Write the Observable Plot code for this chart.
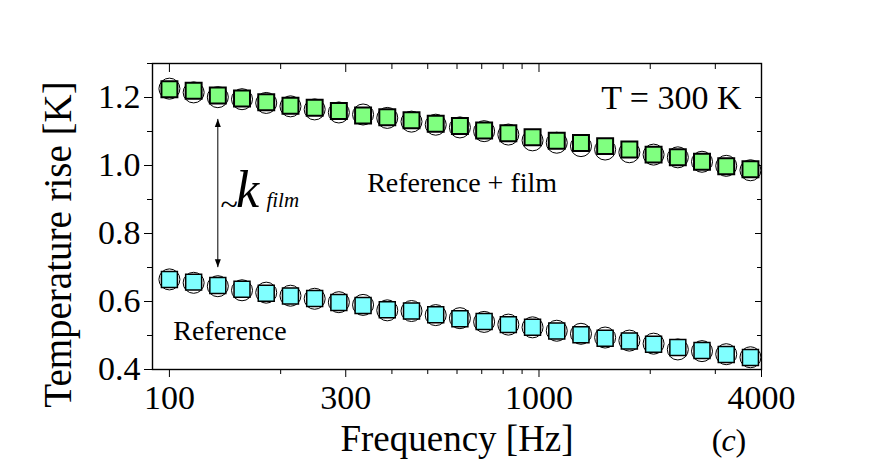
<!DOCTYPE html>
<html><head><meta charset="utf-8">
<script src="https://cdn.jsdelivr.net/npm/d3@7"></script>
<script src="https://cdn.jsdelivr.net/npm/@observablehq/plot@0.6"></script>
<style>body{margin:0;background:#fff} #chart svg, #chart svg text{font-family:'Liberation Serif','Times New Roman',serif}</style>
</head><body><div id="chart"></div>
<script>
const freq = [100,116.3,135.2,157.2,182.8,212.6,247.2,287.4,334.2,388.6,451.9,525.5,611.0,710.5,826.2,960.7,1117,1299,1510,1756,2042,2375,2761,3211,3734];
const filmSquare = [1.224,1.220,1.206,1.197,1.186,1.176,1.170,1.160,1.147,1.142,1.133,1.123,1.116,1.103,1.095,1.083,1.073,1.066,1.057,1.047,1.032,1.024,1.011,0.998,0.989];
const filmCircle = [1.226,1.215,1.201,1.195,1.184,1.174,1.165,1.156,1.150,1.140,1.129,1.120,1.112,1.101,1.091,1.074,1.067,1.057,1.047,1.039,1.032,1.024,1.011,0.999,0.986];
const refSquare = [0.665,0.657,0.647,0.636,0.624,0.616,0.609,0.597,0.588,0.576,0.572,0.561,0.549,0.541,0.532,0.524,0.513,0.502,0.492,0.484,0.474,0.465,0.456,0.444,0.435];
const refCircle = [0.665,0.655,0.645,0.633,0.626,0.617,0.608,0.598,0.590,0.574,0.572,0.560,0.551,0.540,0.532,0.524,0.514,0.505,0.494,0.485,0.476,0.459,0.454,0.445,0.436];
const xMajor = [100,300,1000,4000];
const xMinor = [200,400,500,600,700,800,900,2000,3000];
const yMajor = [0.4,0.6,0.8,1.0,1.2];
const yMinor = [0.5,0.7,0.9,1.1,1.3];
const arrowSpan = [{f:135.2, top:1.137, bottom:0.701}];
const noteTemp = [{text:"T = 300 K", f:3533, v:1.1676}];
const noteFilm = [{text:"Reference + film", f:342.8, v:0.9215}];
const noteRef = [{text:"Reference", f:102.4, v:0.4874}];
const noteTilde = [{text:"~", f:137.5, v:0.853}];
const noteK = [{text:"k", f:151.5, v:0.8765}];
const noteSub = [{text:"film", f:183.0, v:0.8765}];

const FF = "'Liberation Serif','Times New Roman',serif";

function head(color) {
  return d3.create("svg:marker")
    .attr("viewBox","-8 -4 9 8")
    .attr("markerWidth",9).attr("markerHeight",8)
    .attr("markerUnits","userSpaceOnUse")
    .attr("orient","auto-start-reverse")
    .attr("fill",color).attr("stroke","none")
    .call(m => m.append("path").attr("d","M-8,-3L0,0L-8,3Z"))
    .node();
}

const txt = (data, o) => Plot.text(data, {x: "f", y: "v", text: "text", lineAnchor: "bottom", fill: "black", fontFamily: FF, ...o});
const corner = (s, o) => Plot.text([s], {frameAnchor: "bottom-right", dy: 81, fontSize: 32, lineAnchor: "bottom", fill: "black", fontFamily: FF, ...o});

const chart = Plot.plot({
  width: 876, height: 474,
  marginLeft: 152, marginRight: 115, marginTop: 63, marginBottom: 105,
  style: {fontFamily: FF, background: "white", color: "black"},
  x: {type: "log", domain: [90, 4000]},
  y: {domain: [0.4, 1.3]},
  marks: [
    Plot.axisX({ticks: xMajor, tickSize: 8, tickPadding: 7, tickFormat: d => String(d), fontSize: 34, fontFamily: FF, label: null}),
    Plot.axisX({ticks: xMinor, tickSize: 5, fill: "none", label: null}),
    Plot.axisX({anchor: "top", ticks: xMajor, tickSize: -8, fill: "none", label: null}),
    Plot.axisX({anchor: "top", ticks: xMinor, tickSize: -5, fill: "none", label: null}),
    Plot.axisY({ticks: yMajor, tickSize: 8, tickPadding: 4, tickFormat: d3.format(".1f"), fontSize: 34, fontFamily: FF, label: null}),
    Plot.axisY({ticks: yMinor, tickSize: 5, fill: "none", label: null}),
    Plot.axisY({anchor: "right", ticks: yMajor, tickSize: -7, fill: "none", label: null}),
    Plot.axisY({anchor: "right", ticks: yMinor, tickSize: -5, fill: "none", label: null}),
    Plot.frame({stroke: "black", strokeWidth: 1.4}),
    Plot.dot(freq, {x: freq, y: filmCircle, r: 10.5, fill: "none", stroke: "black", strokeWidth: 1}),
    Plot.dot(freq, {x: freq, y: refCircle, r: 10.5, fill: "none", stroke: "black", strokeWidth: 1}),
    Plot.dot(freq, {x: freq, y: filmSquare, symbol: "square", r: 9, fill: "#80ff80", stroke: "black", strokeWidth: 2}),
    Plot.dot(freq, {x: freq, y: refSquare, symbol: "square", r: 9, fill: "#80ffff", stroke: "black", strokeWidth: 1.5}),
    Plot.link(arrowSpan, {x1: "f", x2: "f", y1: "bottom", y2: "top", stroke: "black", strokeWidth: 1, markerStart: head, markerEnd: head}),
    txt(noteTemp, {fontSize: 34, textAnchor: "end"}),
    txt(noteFilm, {fontSize: 28, textAnchor: "start"}),
    txt(noteRef, {fontSize: 28, textAnchor: "start"}),
    txt(noteTilde, {fontSize: 32, textAnchor: "start"}),
    txt(noteK, {fontSize: 52, textAnchor: "start", fontStyle: "italic"}),
    txt(noteSub, {fontSize: 21, textAnchor: "start", fontStyle: "italic"}),
    Plot.text(["Temperature rise [K]"], {frameAnchor: "left", dx: -94, dy: 28, rotate: -90, fontSize: 39, textAnchor: "middle", fill: "black", fontFamily: FF}),
    Plot.text(["Frequency [Hz]"], {frameAnchor: "bottom", dy: 81, fontSize: 37, lineAnchor: "bottom", fill: "black", fontFamily: FF}),
    corner("(", {dx: -39, textAnchor: "end"}),
    corner("c", {dx: -33, textAnchor: "middle", fontStyle: "italic"}),
    corner(")", {dx: -26, textAnchor: "start"})
  ]
});
document.getElementById("chart").append(chart);
</script></body></html>
